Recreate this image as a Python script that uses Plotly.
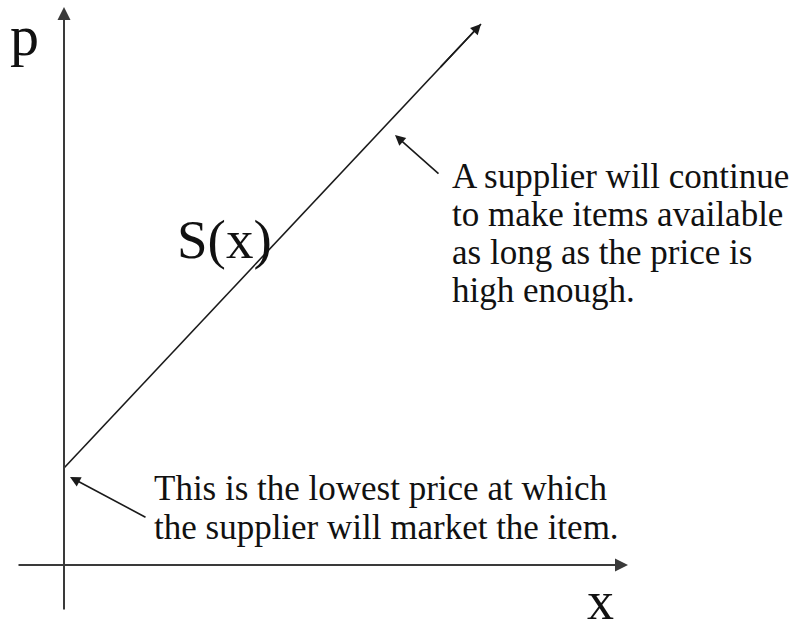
import plotly.graph_objects as go

# Supply curve S(x): quantity on the horizontal axis, price on the vertical axis
supply_q = [0.0, 8.34]
supply_p = [1.94, 10.82]

# Axis extents (quantity axis, price axis)
q_axis = [-0.94, 11.28]
p_axis = [-0.92, 11.16]

note_top = [
    "A supplier will continue",
    "to make items available",
    "as long as the price is",
    "high enough.",
]
note_bottom = [
    "This is the lowest price at which",
    "the supplier will market the item.",
]

W, H = 797, 634
SCALE = 50.0          # pixels per unit
ORIGIN = (64, 565)    # pixel position of (0, 0)


def ux(px):
    return (px - ORIGIN[0]) / SCALE


def uy(py):
    return (ORIGIN[1] - py) / SCALE


SERIF = "Liberation Serif, Times New Roman, serif"
INK = "#2b2b2b"

fig = go.Figure()

fig.add_trace(go.Scatter(
    x=supply_q, y=supply_p, mode="lines",
    line=dict(color="#1a1a1a", width=1.6),
    hoverinfo="skip", showlegend=False,
))

ann = []


def arrow(x0, y0, x1, y1, width=1.6, color=INK, size=1.3):
    ann.append(dict(
        x=x1, y=y1, ax=x0, ay=y0, xref="x", yref="y", axref="x", ayref="y",
        text="", showarrow=True, arrowhead=2, arrowsize=size,
        arrowwidth=width, arrowcolor=color, standoff=0, startstandoff=0,
    ))


# axes
arrow(0, p_axis[0], 0, p_axis[1], width=2.0, color="#3a3a3a")
arrow(q_axis[0], 0, q_axis[1], 0, width=2.0, color="#3a3a3a")

# arrowhead on the supply curve
t = 0.9
arrow(supply_q[0] + t * (supply_q[1] - supply_q[0]),
      supply_p[0] + t * (supply_p[1] - supply_p[0]),
      supply_q[1], supply_p[1], width=1.6, color="#1a1a1a")

# pointers for the notes
arrow(ux(440), uy(175), ux(395), uy(135), width=1.6, color="#1a1a1a")
arrow(ux(147), uy(518), ux(70), uy(477), width=1.6, color="#1a1a1a")


def label(text, px, py, size, anchor="left", vanchor="middle"):
    ann.append(dict(
        x=ux(px), y=uy(py), xref="x", yref="y", text=text, showarrow=False,
        xanchor=anchor, yanchor=vanchor,
        font=dict(family=SERIF, size=size, color="#111111"),
    ))


label("p", 8, 35, 58)
label("x", 585, 633, 54, vanchor="bottom")
label("S(x)", 175, 239, 55)

for i, line in enumerate(note_top):
    label(line, 450, 176 + 38 * i, 35)
for i, line in enumerate(note_bottom):
    label(line, 152, 488 + 39 * i, 35)

fig.update_layout(
    width=W, height=H,
    margin=dict(l=0, r=0, t=0, b=0),
    paper_bgcolor="white", plot_bgcolor="white",
    xaxis=dict(range=[ux(0), ux(W)], visible=False, fixedrange=True),
    yaxis=dict(range=[uy(H), uy(0)], visible=False, fixedrange=True),
    annotations=ann,
    showlegend=False,
)

fig.write_html("out.html", config={"displayModeBar": False})
